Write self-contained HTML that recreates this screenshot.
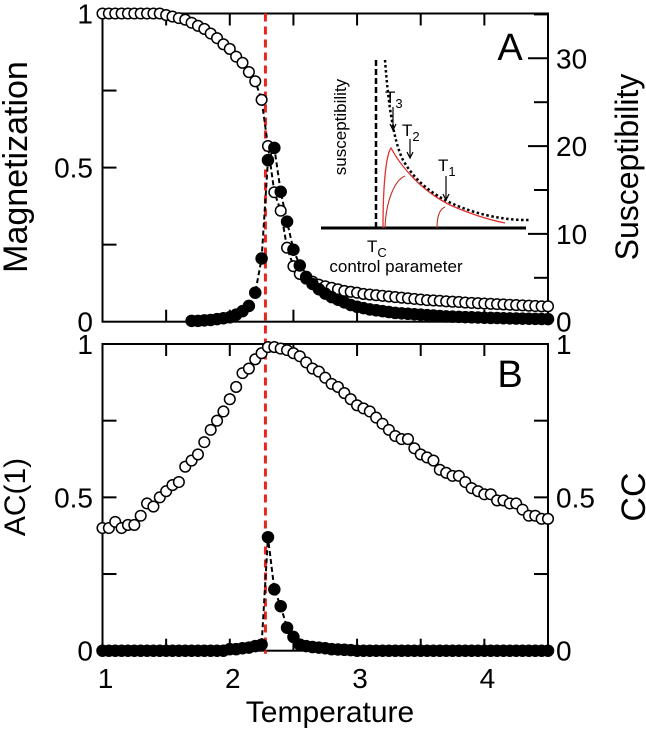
<!DOCTYPE html>
<html><head><meta charset="utf-8">
<style>
html,body{margin:0;padding:0;background:#fff;}
svg{display:block;font-family:"Liberation Sans",sans-serif;}
</style></head>
<body>
<svg id="chart" width="646" height="733" viewBox="0 0 646 733"></svg>
<script>
const temps = [1.00,1.05,1.10,1.15,1.20,1.25,1.30,1.35,1.40,1.45,1.50,1.55,1.60,1.65,1.70,1.75,1.80,1.85,1.90,1.95,2.00,2.05,2.10,2.15,2.20,2.25,2.30,2.35,2.40,2.45,2.50,2.55,2.60,2.65,2.70,2.75,2.80,2.85,2.90,2.95,3.00,3.05,3.10,3.15,3.20,3.25,3.30,3.35,3.40,3.45,3.50,3.55,3.60,3.65,3.70,3.75,3.80,3.85,3.90,3.95,4.00,4.05,4.10,4.15,4.20,4.25,4.30,4.35,4.40,4.45,4.50];
const magnetization = [1,1,1,1,1,1,1,1,1,1,0.995,0.99,0.985,0.98,0.97,0.96,0.95,0.935,0.92,0.90,0.885,0.86,0.84,0.81,0.78,0.72,0.57,0.42,0.36,0.24,0.18,0.155,0.14,0.13,0.12,0.115,0.11,0.105,0.10,0.097,0.094,0.09,0.088,0.086,0.084,0.082,0.08,0.078,0.076,0.074,0.072,0.07,0.069,0.068,0.066,0.065,0.064,0.062,0.061,0.06,0.059,0.058,0.057,0.056,0.055,0.054,0.053,0.052,0.051,0.05,0.05];
const susceptibility = [null,null,null,null,null,null,null,null,null,null,null,null,null,null,0.1,0.1,0.15,0.2,0.3,0.4,0.5,0.8,1.2,1.8,3.3,7.2,18.4,19.8,14.8,11.4,8.2,6.4,5.1,4.3,3.7,3.2,2.8,2.5,2.2,1.9,1.7,1.55,1.4,1.3,1.2,1.1,1.0,0.95,0.9,0.85,0.8,0.75,0.7,0.65,0.6,0.58,0.55,0.52,0.5,0.48,0.45,0.43,0.42,0.4,0.38,0.36,0.35,0.34,0.32,0.31,0.3];
const crossCorr = [0.40,0.40,0.42,0.40,0.41,0.41,0.44,0.48,0.47,0.50,0.52,0.54,0.55,0.60,0.62,0.64,0.68,0.72,0.75,0.78,0.82,0.86,0.905,0.92,0.95,0.97,0.99,0.99,0.985,0.98,0.97,0.96,0.94,0.92,0.91,0.89,0.87,0.86,0.84,0.82,0.80,0.79,0.78,0.76,0.74,0.72,0.70,0.69,0.69,0.66,0.64,0.63,0.62,0.59,0.58,0.57,0.57,0.55,0.53,0.52,0.51,0.51,0.49,0.49,0.48,0.48,0.46,0.44,0.44,0.43,0.43];
const autoCorr = [0,0,0,0,0,0,0,0,0,0,0,0,0,0,0,0,0,0,0,0,0.005,0.005,0.008,0.01,0.015,0.02,0.37,0.20,0.145,0.075,0.045,0.02,0.015,0.012,0.01,0.008,0.005,0.004,0.003,0.002,0,0,0,0,0,0,0,0,0,0,0,0,0,0,0,0,0,0,0,0,0,0,0,0,0,0,0,0,0,0,0];
const xTicks = [1,2,3,4];
const leftTickLabels = ["0","0.5","1"];
const rightTickLabelsA = ["0","10","20","30"];
const criticalT = 2.28;

const NS="http://www.w3.org/2000/svg";
const svg=document.getElementById('chart');
const X0=102.5, X1=548, T0=1, T1=4.5;
const xs=t=>X0+(t-T0)/(T1-T0)*(X1-X0);
const A={top:13.5,bot:321.7}, B={top:344,bot:650.7};
const yA=v=>A.bot-v*(A.bot-A.top);
const yChi=v=>A.bot-v*8.78;
const yB=v=>B.bot-v*(B.bot-B.top);
function mk(tag,attrs,parent){const e=document.createElementNS(NS,tag);for(const k in attrs)e.setAttribute(k,attrs[k]);(parent||svg).appendChild(e);return e;}
function txt(s,x,y,size,anchor,name,rot){const e=mk('text',{x:x,y:y,'font-size':size,'text-anchor':anchor||'start',fill:'#000'});if(rot)e.setAttribute('transform','rotate(-90 '+x+' '+y+')');e.textContent=s;return e;}

function panel(P,yf,name){
  const g=mk('g',{});
  
  
  mk('rect',{x:X0,y:P.top,width:X1-X0,height:P.bot-P.top,fill:'none',stroke:'#000','stroke-width':2},g);
  for(let t=1;t<=4.5;t+=0.5){const x=xs(t);mk('line',{x1:x,x2:x,y1:P.top,y2:P.top+12,stroke:'#000','stroke-width':2},g);mk('line',{x1:x,x2:x,y1:P.bot,y2:P.bot-12,stroke:'#000','stroke-width':2},g);}
  for(let v=0.25;v<1;v+=0.25){const y=yf(v);mk('line',{x1:X0,x2:X0+14,y1:y,y2:y,stroke:'#000','stroke-width':2},g);}
  return g;
}
const gA=panel(A,yA,'panel-a');
const gB=panel(B,yB,'panel-b');
for(let v=5;v<=35;v+=5){const y=yChi(v);mk('line',{x1:X1,x2:X1-(v%10===0?20:14),y1:y,y2:y,stroke:'#000','stroke-width':2},gA);}
for(let v=0.25;v<1;v+=0.25){const y=yB(v);mk('line',{x1:X1,x2:X1-14,y1:y,y2:y,stroke:'#000','stroke-width':2},gB);}

const lv=[0,0.5,1];
lv.forEach((v,i)=>{txt(leftTickLabels[i],93,yA(v)+10,28,'end','magnetization-tick-label');txt(leftTickLabels[i],93,yB(v)+10,28,'end','ac1-tick-label');txt(leftTickLabels[i],556,yB(v)+10,28,'start','cc-tick-label');});
[0,10,20,30].forEach((v,i)=>txt(rightTickLabelsA[i],556,yChi(v)+10,28,'start','susceptibility-tick-label'));
xTicks.forEach(t=>txt(String(t),xs(t)+3,688,28,'middle','x-tick-label'));
txt('Temperature',330,722,30,'middle','x-axis-title');
txt('Magnetization',27,167,34,'middle','left-axis-title-a',true);
txt('AC(1)',25,497,30,'middle','left-axis-title-b',true);
txt('Susceptibility',638,167,32,'middle','right-axis-title-a',true);
txt('CC',645,497,34,'middle','right-axis-title-b',true);
txt('A',510,60,38,'middle','panel-label-a');
txt('B',510,387,38,'middle','panel-label-b');

const gi=mk('g',{});


mk('line',{x1:321,x2:526,y1:228,y2:228,stroke:'#000','stroke-width':3},gi);
mk('line',{x1:376,x2:376,y1:60,y2:228,stroke:'#000','stroke-width':2.5,'stroke-dasharray':'6,3'},gi);
mk('path',{d:'M383,228 C383,185 386,155 391,148 C400,165 420,190 450,205 C475,216 495,221 505,223',fill:'none',stroke:'#e03030','stroke-width':1.3},gi);
mk('path',{d:'M385,228 C386,200 395,180 405,176',fill:'none',stroke:'#c03020','stroke-width':1.1},gi);
mk('path',{d:'M437,228 C437,215 440,209 445,207',fill:'none',stroke:'#c03020','stroke-width':1.1},gi);
mk('path',{d:'M385,60 C388,100 393,140 403,160 C420,190 450,207 490,216 C510,220 520,220 529,220',fill:'none',stroke:'#000','stroke-width':2.5,'stroke-dasharray':'2.5,2.5'},gi);
[[393,107,130],[410,139,158],[446,176,200]].forEach(a=>{mk('line',{x1:a[0],x2:a[0],y1:a[1],y2:a[2],stroke:'#000','stroke-width':1.2},gi);mk('path',{d:`M${a[0]-3},${a[2]-6} L${a[0]},${a[2]} L${a[0]+3},${a[2]-6}`,fill:'none',stroke:'#000','stroke-width':1.2},gi);});
const ti=[['T',385,103,'3'],['T',402,136,'2'],['T',438,171,'1'],['T',367,252,'C']];
ti.forEach(a=>{const e=txt(a[0],a[1],a[2],17,'start','inset-temperature-label');const s=document.createElementNS(NS,'tspan');s.setAttribute('font-size','13');s.setAttribute('dy','5');s.textContent=a[3];e.appendChild(s);});
txt('susceptibility',346,127,17,'middle','inset-y-label',true);
txt('control parameter',396,272,17,'middle','inset-x-label');

const rl=mk('line',{x1:xs(criticalT),x2:xs(criticalT),y1:A.top,y2:B.bot+3,stroke:'#e8261e','stroke-width':3,'stroke-dasharray':'8,5'});



function dashLine(vals,yf,lo,hi,name){
  let d='';temps.forEach((t,i)=>{if(t>=lo&&t<=hi&&vals[i]!=null){d+=(d?'L':'M')+xs(t)+','+yf(vals[i]);}});
  const p=mk('path',{d:d,fill:'none',stroke:'#000','stroke-width':2,'stroke-dasharray':'5,3'});
  
  
}
dashLine(magnetization,yA,2.15,2.5,'magnetization-fit-line');
dashLine(susceptibility,yChi,2.05,2.7,'susceptibility-fit-line');
dashLine(autoCorr,yB,2.2,2.55,'ac1-fit-line');

function scatter(vals,yf,filled,name){
  temps.forEach((t,i)=>{const v=vals[i];if(v==null)return;
    const c=mk('circle',{cx:xs(t),cy:yf(v),r:filled?5.5:5.3,fill:filled?'#000':'#fff',stroke:'#000','stroke-width':1.5});
    
    });
}
scatter(magnetization,yA,false,'magnetization-point');
scatter(susceptibility,yChi,true,'susceptibility-point');
scatter(crossCorr,yB,false,'cc-point');
scatter(autoCorr,yB,true,'ac1-point');
</script>
</body></html>
